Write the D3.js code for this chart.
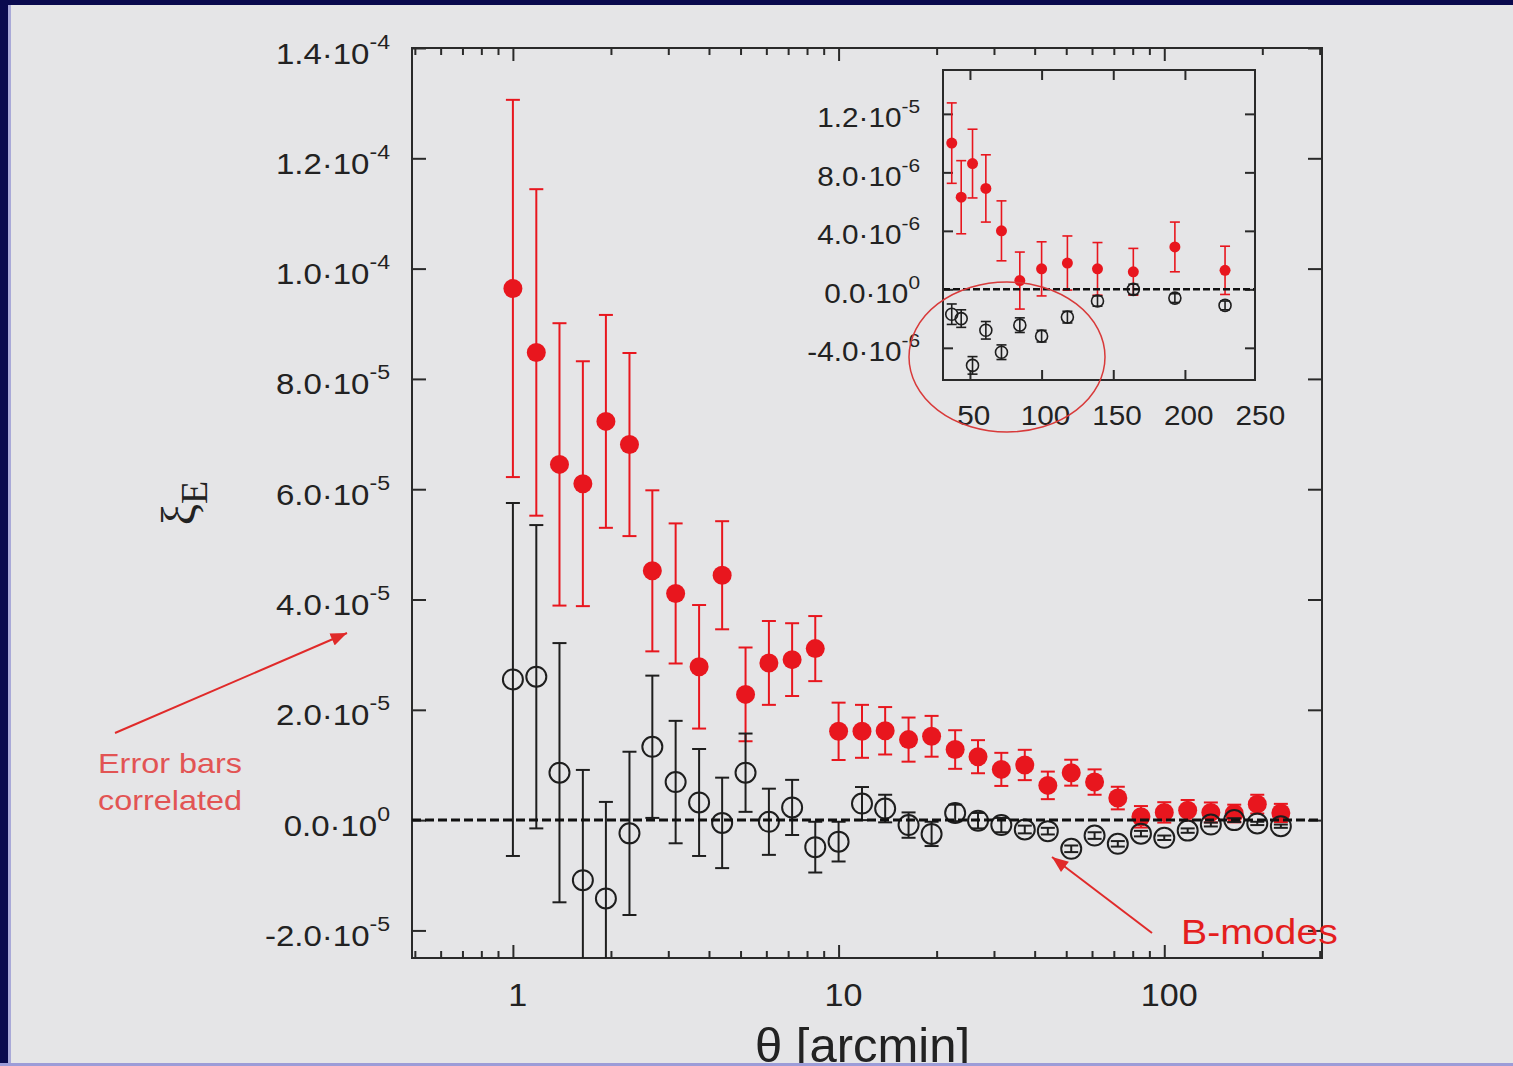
<!DOCTYPE html>
<html>
<head>
<meta charset="utf-8">
<title>xi_E and B-modes</title>
<script src="https://cdn.jsdelivr.net/npm/d3@7"></script>
<style>
  body { margin: 0; background: #e5e5e7; }
  svg { display: block; }
  text { font-family: "Liberation Sans", Arial, sans-serif; fill: #222; }
</style>
</head>
<body>
<svg width="1513" height="1066"></svg>
<script>
// angular bins (arcmin)
var theta = [1.00, 1.18, 1.39, 1.64, 1.93, 2.28, 2.68, 3.16, 3.73, 4.39,
             5.18, 6.11, 7.20, 8.48, 10.0, 11.8, 13.9, 16.4, 19.3, 22.8,
             26.8, 31.6, 37.3, 43.9, 51.8, 61.1, 72.0, 84.8, 100, 118,
             139, 164, 193, 228];
// E-mode signal, units of 1e-6
var xiE = [96.4, 84.8, 64.5, 61.0, 72.3, 68.1, 45.2, 41.1, 27.8, 44.4,
           22.8, 28.5, 29.1, 31.1, 16.1, 16.1, 16.2, 14.6, 15.2, 12.8,
           11.5, 9.2, 10.0, 6.3, 8.6, 6.9, 4.0, 0.6, 1.4, 1.8,
           1.4, 1.2, 2.9, 1.3];
var xiEerr = [34.2, 29.6, 25.6, 22.2, 19.3, 16.6, 14.6, 12.7, 11.2, 9.8,
              8.5, 7.6, 6.6, 5.9, 5.2, 4.8, 4.3, 4.0, 3.7, 3.5,
              3.0, 3.0, 2.75, 2.5, 2.35, 2.3, 2.05, 1.95, 1.85, 1.85,
              1.8, 1.6, 1.7, 1.65];
// B-modes, units of 1e-6
var xiB = [25.5, 26.0, 8.6, -10.9, -14.2, -2.4, 13.3, 6.9, 3.2, -0.5,
           8.6, -0.3, 2.3, -4.9, -3.9, 3.0, 2.1, -0.9, -2.5, 1.3,
           -0.1, -0.9, -1.7, -2.0, -5.2, -2.8, -4.3, -2.45, -3.2, -1.9,
           -0.8, 0.0, -0.6, -1.1];
var xiBerr = [32.0, 27.5, 23.5, 20.0, 17.5, 14.8, 12.9, 11.1, 9.7, 8.2,
              7.1, 6.0, 5.0, 4.6, 3.6, 3.0, 2.5, 2.3, 2.2, 1.5,
              1.4, 1.3, 0.7, 0.6, 0.6, 0.6, 0.5, 0.5, 0.4, 0.4,
              0.35, 0.35, 0.3, 0.3];

var xMajor = [1, 10, 100];
var xMajorLabels = ["1", "10", "100"];
var xMinor = [0.5, 0.6, 0.7, 0.8, 0.9, 2, 3, 4, 5, 6, 7, 8, 9,
              20, 30, 40, 50, 60, 70, 80, 90, 200, 300];
var yTicks = [-20, 0, 20, 40, 60, 80, 100, 120, 140];
var yMant = ["-2.0", "0.0", "2.0", "4.0", "6.0", "8.0", "1.0", "1.2", "1.4"];
var yExp = ["-5", "0", "-5", "-5", "-5", "-5", "-4", "-4", "-4"];

var insetMin = 35;  // inset shows the bins beyond this angle
var insetXTicks = [50, 100, 150, 200, 250];
var insetXLabels = ["50", "100", "150", "200", "250"];
var insetYTicks = [-4, 0, 4, 8, 12];
var insetYMant = ["-4.0", "0.0", "4.0", "8.0", "1.2"];
var insetYExp = ["-6", "0", "-6", "-6", "-5"];

var RED = "#e8161e", BLACK = "#1e1e1e";
var SX = 1.1;  // slide text is a little wide

var svg = d3.select("svg");
svg.append("rect").attr("width", 1513).attr("height", 1066).attr("fill", "#e5e5e7");

var defs = svg.append("defs");
defs.append("marker").attr("id", "ah")
    .attr("viewBox", "0 0 10 8").attr("refX", 10).attr("refY", 4)
    .attr("markerWidth", 17).attr("markerHeight", 13)
    .attr("markerUnits", "userSpaceOnUse").attr("orient", "auto")
  .append("path").attr("d", "M0,0L10,4L0,8z").attr("fill", "#e02a2a");

// ---------- main plot ----------
var M = {left: 412, right: 1322, top: 48, bottom: 958};
var x = d3.scaleLog().domain([0.49, 305]).range([M.left, M.right]);
var y = d3.scaleLinear().domain([-25, 140]).range([M.bottom, M.top]);

defs.append("clipPath").attr("id", "clipMain").append("rect")
    .attr("x", M.left).attr("y", M.top)
    .attr("width", M.right - M.left).attr("height", M.bottom - M.top);

function tidy(g) {
  g.select(".domain").remove();
  g.attr("color", "#2a2a2a");
  g.selectAll(".tick line").attr("stroke-width", 2);
}

function powerLabels(g, mant, expo, size, supSize, pad, dy, up) {
  g.selectAll(".tick text").each(function(d, i) {
    var t = d3.select(this).text(null)
      .attr("font-size", size).attr("dy", dy)
      .attr("x", -pad / SX).attr("transform", "scale(" + SX + ",1)");
    t.append("tspan").text(mant[i] + "\u00b710");
    t.append("tspan").attr("dy", -up).attr("font-size", supSize).text(expo[i]);
  });
}

// bottom / top x ticks
var gxb = svg.append("g").attr("transform", "translate(0," + M.bottom + ")")
  .call(d3.axisBottom(x).tickValues(xMajor).tickSize(-13).tickPadding(26)
        .tickFormat(function(d, i) { return xMajorLabels[i]; }));
tidy(gxb);
gxb.selectAll(".tick text").attr("font-size", 31).attr("dx", 4)
   .attr("transform", "scale(" + SX + ",1)");
var gxbm = svg.append("g").attr("transform", "translate(0," + M.bottom + ")")
  .call(d3.axisBottom(x).tickValues(xMinor).tickSize(-7).tickFormat(""));
tidy(gxbm);
var gxt = svg.append("g").attr("transform", "translate(0," + M.top + ")")
  .call(d3.axisTop(x).tickValues(xMajor).tickSize(-13).tickFormat(""));
tidy(gxt);
var gxtm = svg.append("g").attr("transform", "translate(0," + M.top + ")")
  .call(d3.axisTop(x).tickValues(xMinor).tickSize(-7).tickFormat(""));
tidy(gxtm);

// left / right y ticks
var gyl = svg.append("g").attr("transform", "translate(" + M.left + ",0)")
  .call(d3.axisLeft(y).tickValues(yTicks).tickSize(-14));
tidy(gyl);
powerLabels(gyl, yMant, yExp, 30, 21, 22, 15, 15);
var gyr = svg.append("g").attr("transform", "translate(" + M.right + ",0)")
  .call(d3.axisRight(y).tickValues(yTicks).tickSize(-14).tickFormat(""));
tidy(gyr);

svg.append("rect").attr("x", M.left).attr("y", M.top)
    .attr("width", M.right - M.left).attr("height", M.bottom - M.top)
    .attr("fill", "none").attr("stroke", "#2a2a2a").attr("stroke-width", 2);

function errorBars(g, xs, vals, errs, xsc, ysc, cap, color, w) {
  var idx = d3.range(xs.length);
  g.selectAll(null).data(idx).enter().append("line")
    .attr("x1", function(i) { return xsc(xs[i]); })
    .attr("x2", function(i) { return xsc(xs[i]); })
    .attr("y1", function(i) { return ysc(vals[i] - errs[i]); })
    .attr("y2", function(i) { return ysc(vals[i] + errs[i]); })
    .attr("stroke", color).attr("stroke-width", w);
  [-1, 1].forEach(function(s) {
    g.selectAll(null).data(idx).enter().append("line")
      .attr("x1", function(i) { return xsc(xs[i]) - cap; })
      .attr("x2", function(i) { return xsc(xs[i]) + cap; })
      .attr("y1", function(i) { return ysc(vals[i] + s * errs[i]); })
      .attr("y2", function(i) { return ysc(vals[i] + s * errs[i]); })
      .attr("stroke", color).attr("stroke-width", w);
  });
}

function drawSeries(g, xs, e, ee, b, be, xsc, ysc, o) {
  errorBars(g, xs, e, ee, xsc, ysc, o.cap, RED, o.w);
  g.selectAll(null).data(d3.range(xs.length)).enter().append("circle")
    .attr("cx", function(i) { return xsc(xs[i]); })
    .attr("cy", function(i) { return ysc(e[i]); })
    .attr("r", o.rRed).attr("fill", RED);
  errorBars(g, xs, b, be, xsc, ysc, o.cap, BLACK, o.w);
  g.selectAll(null).data(d3.range(xs.length)).enter().append("circle")
    .attr("cx", function(i) { return xsc(xs[i]); })
    .attr("cy", function(i) { return ysc(b[i]); })
    .attr("r", o.rBlack).attr("fill", "none")
    .attr("stroke", BLACK).attr("stroke-width", o.w);
  g.append("line")
    .attr("x1", xsc.range()[0]).attr("x2", xsc.range()[1])
    .attr("y1", ysc(0)).attr("y2", ysc(0))
    .attr("stroke", "#111").attr("stroke-width", o.dashW)
    .attr("stroke-dasharray", o.dash);
}

var plot = svg.append("g").attr("clip-path", "url(#clipMain)");
drawSeries(plot, theta, xiE, xiEerr, xiB, xiBerr, x, y,
           {cap: 7, w: 2, rRed: 9.5, rBlack: 10, dashW: 3, dash: "9,4"});

// axis titles
svg.append("text").attr("x", 755).attr("y", 1062).attr("font-size", 49)
    .text("\u03b8 [arcmin]");
var yl = svg.append("text")
    .attr("transform", "translate(195,503) rotate(-90)")
    .attr("text-anchor", "middle")
    .style("font-family", "'Liberation Serif', 'DejaVu Serif', serif");
yl.append("tspan").attr("font-size", 48).text("\u03be");
yl.append("tspan").attr("font-size", 38).attr("dy", 12).text("E");

// ---------- inset ----------
var I = {left: 943, right: 1255, top: 70, bottom: 380};
var xi = d3.scaleLinear().domain([31.2, 248.9]).range([I.left, I.right]);
var yi = d3.scaleLinear().domain([-6.2, 15]).range([I.bottom, I.top]);

svg.append("rect").attr("x", I.left).attr("y", I.top)
    .attr("width", I.right - I.left).attr("height", I.bottom - I.top)
    .attr("fill", "#e5e5e7");
defs.append("clipPath").attr("id", "clipInset").append("rect")
    .attr("x", I.left).attr("y", I.top)
    .attr("width", I.right - I.left).attr("height", I.bottom - I.top);

function dropOutside(g) {
  g.selectAll(".tick line").filter(function(d) { return d > xi.domain()[1]; }).remove();
}
var ixb = svg.append("g").attr("transform", "translate(0," + I.bottom + ")")
  .call(d3.axisBottom(xi).tickValues(insetXTicks).tickSize(-10).tickPadding(26)
        .tickFormat(function(d, i) { return insetXLabels[i]; }));
tidy(ixb);
dropOutside(ixb);
ixb.selectAll(".tick text").attr("font-size", 27).attr("dx", 3)
   .attr("transform", "scale(" + SX + ",1)");
var ixt = svg.append("g").attr("transform", "translate(0," + I.top + ")")
  .call(d3.axisTop(xi).tickValues(insetXTicks).tickSize(-10).tickFormat(""));
tidy(ixt);
dropOutside(ixt);
var iyl = svg.append("g").attr("transform", "translate(" + I.left + ",0)")
  .call(d3.axisLeft(yi).tickValues(insetYTicks).tickSize(-10));
tidy(iyl);
powerLabels(iyl, insetYMant, insetYExp, 27, 19, 23, 13, 14);
var iyr = svg.append("g").attr("transform", "translate(" + I.right + ",0)")
  .call(d3.axisRight(yi).tickValues(insetYTicks).tickSize(-10).tickFormat(""));
tidy(iyr);

var inTheta = [], inE = [], inEe = [], inB = [], inBe = [];
theta.forEach(function(t, i) {
  if (t > insetMin) {
    inTheta.push(t); inE.push(xiE[i]); inEe.push(xiEerr[i]);
    inB.push(xiB[i]); inBe.push(xiBerr[i]);
  }
});
var inset = svg.append("g").attr("clip-path", "url(#clipInset)");
drawSeries(inset, inTheta, inE, inEe, inB, inBe, xi, yi,
           {cap: 5, w: 1.6, rRed: 5.5, rBlack: 6, dashW: 2.5, dash: "7,3"});

svg.append("rect").attr("x", I.left).attr("y", I.top)
    .attr("width", I.right - I.left).attr("height", I.bottom - I.top)
    .attr("fill", "none").attr("stroke", "#2a2a2a").attr("stroke-width", 2);

// ---------- annotations ----------
svg.append("ellipse").attr("cx", 1007).attr("cy", 357).attr("rx", 98).attr("ry", 75)
    .attr("fill", "none").attr("stroke", "#d83a3a").attr("stroke-width", 1.5);

svg.append("line").attr("x1", 115).attr("y1", 733).attr("x2", 347).attr("y2", 633)
    .attr("stroke", "#e02a2a").attr("stroke-width", 2).attr("marker-end", "url(#ah)");
svg.append("line").attr("x1", 1152).attr("y1", 933).attr("x2", 1052).attr("y2", 857)
    .attr("stroke", "#e02a2a").attr("stroke-width", 2).attr("marker-end", "url(#ah)");

var note = svg.append("g").attr("transform", "translate(98,0) scale(1.2,1)");
note.append("text").attr("x", 0).attr("y", 773).attr("font-size", 27)
    .style("fill", "#e25454").text("Error bars");
note.append("text").attr("x", 0).attr("y", 810).attr("font-size", 27)
    .style("fill", "#e25454").text("correlated");
svg.append("g").attr("transform", "translate(1181,944) scale(1.12,1)")
  .append("text").attr("font-size", 35)
    .style("fill", "#e41e1e").text("B-modes");

// slide borders
svg.append("rect").attr("x", 0).attr("y", 0).attr("width", 8).attr("height", 1066).attr("fill", "#0a0a4e");
svg.append("rect").attr("x", 8).attr("y", 0).attr("width", 3).attr("height", 1066).attr("fill", "#a9a9d8");
svg.append("rect").attr("x", 0).attr("y", 0).attr("width", 1513).attr("height", 5).attr("fill", "#0a0a4e");
svg.append("rect").attr("x", 0).attr("y", 1063).attr("width", 1513).attr("height", 3).attr("fill", "#9c9cd8");
</script>
</body>
</html>
